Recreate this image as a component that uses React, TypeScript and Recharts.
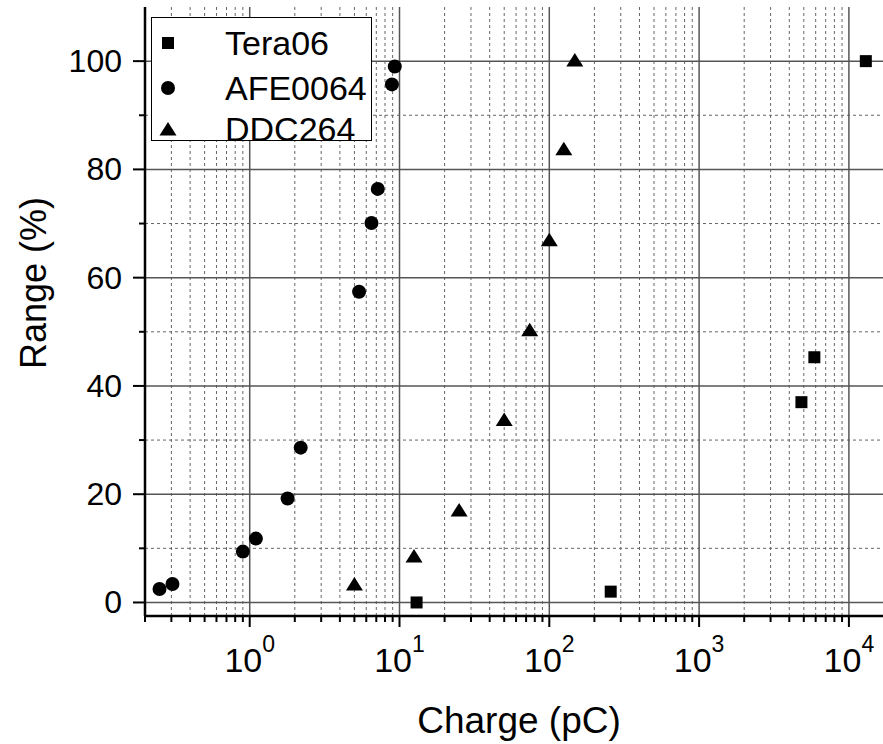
import React from "react";
import { ScatterChart, Scatter, XAxis, YAxis, ReferenceLine, Label } from "recharts";

// charge in pC, range in %
const teraCharge = [13, 257, 4820, 5880, 12970];
const teraRange = [0, 2, 37, 45.3, 100];
const afeCharge = [0.25, 0.305, 0.9, 1.1, 1.79, 2.19, 5.37, 6.5, 7.16, 8.9, 9.3];
const afeRange = [2.5, 3.4, 9.4, 11.8, 19.2, 28.6, 57.4, 70.1, 76.4, 95.7, 99.0];
const ddcCharge = [5, 12.5, 25, 50, 74, 100, 125, 148];
const ddcRange = [3.4, 8.6, 17.1, 33.8, 50.4, 67.0, 83.8, 100.2];

const xDomain: [number, number] = [0.2, 20000];
const yDomain: [number, number] = [-2.5, 110];
const xMajor = [1, 10, 100, 1000, 10000];
const decades = [0.1, 1, 10, 100, 1000, 10000];
const minorSteps = [2, 3, 4, 5, 6, 7, 8, 9];
const xMinor = decades
  .flatMap((d) => minorSteps.map((k) => +(d * k).toPrecision(3)))
  .filter((v) => v >= xDomain[0] && v <= xDomain[1]);
const yMajor = [0, 20, 40, 60, 80, 100];
const yMinor = [10, 30, 50, 70, 90];

const toPoints = (xs: number[], ys: number[]) => xs.map((x, i) => ({ x, y: ys[i] }));
const tera = toPoints(teraCharge, teraRange);
const afe = toPoints(afeCharge, afeRange);
const ddc = toPoints(ddcCharge, ddcRange);

const FONT = "'Liberation Sans', Arial, sans-serif";
const majorGrid = "#555";
const minorGrid = "#666";

const Square = ({ cx, cy }: any) => <rect x={cx - 6} y={cy - 6} width={12} height={12} fill="#000" />;
const Dot = ({ cx, cy }: any) => <circle cx={cx} cy={cy} r={7} fill="#000" />;
const Tri = ({ cx, cy }: any) => (
  <polygon points={`${cx},${cy - 7} ${cx - 8.5},${cy + 6.5} ${cx + 8.5},${cy + 6.5}`} fill="#000" />
);

const BottomTick = ({ x, y, payload }: any) => {
  const major = xMajor.includes(payload.value);
  const exp = Math.round(Math.log10(payload.value));
  return (
    <g>
      <line x1={x} x2={x} y1={y} y2={y + (major ? 11 : 6)} stroke="#000" strokeWidth={2} />
      {major && (
        <text x={x} y={y + 56} textAnchor="middle" fontFamily={FONT} fontSize={34} fill="#000">
          10
          <tspan fontSize={23} dy={-20}>{exp}</tspan>
        </text>
      )}
    </g>
  );
};

const TopTick = ({ x, y, payload }: any) => {
  const major = xMajor.includes(payload.value);
  return <line x1={x} x2={x} y1={y} y2={y + (major ? 8 : 5)} stroke="#000" strokeWidth={2} />;
};

const LeftTick = ({ x, y, payload }: any) => {
  const major = yMajor.includes(payload.value);
  return (
    <g>
      <line x1={x} x2={x - (major ? 12 : 6)} y1={y} y2={y} stroke="#000" strokeWidth={2} />
      {major && (
        <text x={x - 23} y={y} textAnchor="end" dominantBaseline="central" fontFamily={FONT} fontSize={32} fill="#000">
          {payload.value}
        </text>
      )}
    </g>
  );
};

const legendRows = [
  { name: "Tera06", top: 25, mark: <rect x={7} y={6} width={12} height={12} fill="#000" /> },
  { name: "AFE0064", top: 70, mark: <circle cx={13} cy={12} r={7} fill="#000" /> },
  { name: "DDC264", top: 111, mark: <polygon points="13,5 4.5,18.5 21.5,18.5" fill="#000" /> },
];

export default function App() {
  return (
    <div style={{ position: "absolute", left: 0, top: 0, width: 883, height: 744, overflow: "hidden", background: "#fff" }}>
      <div style={{ position: "relative", width: 900, height: 744 }}>
        <ScatterChart width={900} height={744} margin={{ top: 7, right: 6, bottom: 0, left: 45 }}>
          <XAxis
            dataKey="x"
            type="number"
            scale="log"
            domain={xDomain}
            allowDataOverflow
            ticks={[...xMinor, ...xMajor].sort((a, b) => a - b)}
            interval={0}
            height={128}
            tickSize={0}
            tickMargin={0}
            tickLine={false}
            tick={<BottomTick />}
            axisLine={{ stroke: "#000", strokeWidth: 2.5 }}
          >
            <Label
              content={() => (
                <text x={519} y={733} textAnchor="middle" fontFamily={FONT} fontSize={37} fill="#000">
                  Charge (pC)
                </text>
              )}
            />
          </XAxis>
          <XAxis
            xAxisId="top"
            orientation="top"
            dataKey="x"
            type="number"
            scale="log"
            domain={xDomain}
            allowDataOverflow
            ticks={[...xMinor, ...xMajor].sort((a, b) => a - b)}
            interval={0}
            height={0}
            tickSize={0}
            tickMargin={0}
            tickLine={false}
            tick={<TopTick />}
            axisLine={{ stroke: "#000", strokeWidth: 2.5 }}
          />
          <YAxis
            dataKey="y"
            type="number"
            domain={yDomain}
            allowDataOverflow
            ticks={[...yMajor, ...yMinor].sort((a, b) => a - b)}
            interval={0}
            width={100}
            tickSize={0}
            tickMargin={0}
            tickLine={false}
            tick={<LeftTick />}
            axisLine={{ stroke: "#000", strokeWidth: 2.5 }}
          >
            <Label
              content={() => (
                <text
                  x={0}
                  y={0}
                  transform="translate(46 283) rotate(-90)"
                  textAnchor="middle"
                  fontFamily={FONT}
                  fontSize={36}
                  fill="#000"
                >
                  Range (%)
                </text>
              )}
            />
          </YAxis>
          {xMinor.map((v) => (
            <ReferenceLine key={"xm" + v} x={v} stroke={minorGrid} strokeDasharray="3 3" strokeWidth={1} />
          ))}
          {yMinor.map((v) => (
            <ReferenceLine key={"ym" + v} y={v} stroke={minorGrid} strokeDasharray="3 3" strokeWidth={1} />
          ))}
          {xMajor.map((v) => (
            <ReferenceLine key={"xM" + v} x={v} stroke={majorGrid} strokeWidth={1.5} />
          ))}
          {yMajor.map((v) => (
            <ReferenceLine key={"yM" + v} y={v} stroke={majorGrid} strokeWidth={1.5} />
          ))}
          <Scatter name="Tera06" data={tera} shape={<Square />} isAnimationActive={false} />
          <Scatter name="AFE0064" data={afe} shape={<Dot />} isAnimationActive={false} />
          <Scatter name="DDC264" data={ddc} shape={<Tri />} isAnimationActive={false} />
        </ScatterChart>
        <div
          style={{
            position: "absolute",
            left: 151,
            top: 17,
            width: 219,
            height: 122,
            border: "1.5px solid #000",
            background: "#fff",
            fontFamily: FONT,
          }}
        >
          {legendRows.map((r) => (
            <div key={r.name} style={{ position: "absolute", left: 0, top: r.top - 20, height: 40, display: "flex", alignItems: "center" }}>
              <svg width={26} height={24} style={{ marginLeft: 3 }}>
                {r.mark}
              </svg>
              <span style={{ marginLeft: 44, fontSize: 34, lineHeight: "40px", color: "#000" }}>{r.name}</span>
            </div>
          ))}
        </div>
      </div>
    </div>
  );
}
